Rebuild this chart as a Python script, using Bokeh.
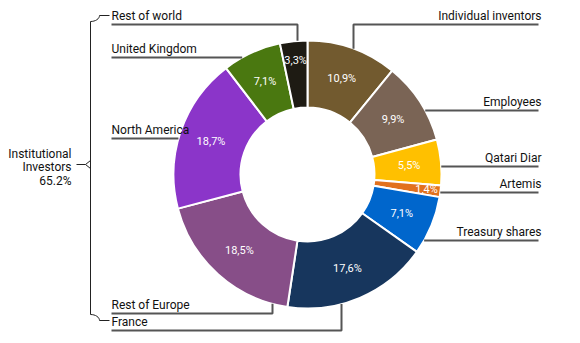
import math
from bokeh.plotting import figure
from bokeh.models import Range1d
from bokeh.core.properties import value
from bokeh.embed import file_html
from bokeh.resources import INLINE

# ---- data ----
categories = ["Individual inventors", "Employees", "Qatari Diar", "Artemis",
              "Treasury shares", "France", "Rest of Europe", "North America",
              "United Kingdom", "Rest of world"]
values = [10.9, 9.9, 5.5, 1.4, 7.1, 17.6, 18.5, 18.7, 7.1, 3.3]
value_labels = ["10,9%", "9,9%", "5,5%", "1,4%", "7,1%", "17,6%", "18,5%",
                "18,7%", "7,1%", "3,3%"]
colors = ["#725a2f", "#7a6455", "#ffc000", "#e2711d", "#0066cc", "#17365d",
          "#874e88", "#8b35c9", "#4a7810", "#1e1b13"]
group_label = ["Institutional", "Investors", "65.2%"]

# ---- layout (pixels, y measured from top) ----
W, H = 580, 343
CX, CY = 307, 174
R_OUT, R_IN = 134, 67
FONT = "Roboto"
LINE_COLOR = "#555555"

def Y(py):
    return H - py

# side, leader y, optional vertical drop x
leader = {
    "Individual inventors": ("right", 24, 353),
    "Employees": ("right", 110, None),
    "Qatari Diar": ("right", 166, None),
    "Artemis": ("right", 192, None),
    "Treasury shares": ("right", 240, None),
    "France": ("left", 330, 341),
    "Rest of Europe": ("left", 313, 272),
    "North America": ("left", 138, None),
    "United Kingdom": ("left", 57, None),
    "Rest of world": ("left", 24, 297),
}
label_radius = {"Artemis": 120, "Rest of world": 115}
RIGHT_END = 538
RIGHT_TEXT = 541
LEFT_START = 111

p = figure(width=W, height=H, x_range=Range1d(0, W), y_range=Range1d(0, H),
           output_backend="svg", toolbar_location=None, min_border=0)
p.axis.visible = False
p.grid.visible = False
p.outline_line_color = None
p.background_fill_color = "white"

total = sum(values)
starts, ends, mids = [], [], []
acc = 0.0
for v in values:
    a0 = acc / total
    acc += v
    a1 = acc / total
    starts.append(math.pi / 2 - 2 * math.pi * a0)
    ends.append(math.pi / 2 - 2 * math.pi * a1)
    mids.append(math.pi / 2 - 2 * math.pi * (a0 + a1) / 2)

p.annular_wedge(x=[CX] * len(values), y=[Y(CY)] * len(values),
                inner_radius=R_IN, outer_radius=R_OUT,
                start_angle=starts, end_angle=ends, direction="clock",
                fill_color=colors, line_color="white", line_width=2)

# value labels inside the ring
lx, ly = [], []
for cat, m in zip(categories, mids):
    r = label_radius.get(cat, 102)
    lx.append(CX + r * math.cos(m))
    ly.append(Y(CY) + r * math.sin(m))
p.text(x=lx, y=ly, text=value_labels, text_color="white",
       text_font=value(FONT), text_font_size="11px",
       text_align="center", text_baseline="middle")

# leader lines and category labels
for cat in categories:
    side, ly_pix, vx = leader[cat]
    if vx is not None:
        dx = vx - CX
        dy = math.sqrt(R_OUT ** 2 - dx ** 2)
        y_edge = CY - dy if ly_pix < CY else CY + dy
        if side == "right":
            xs = [RIGHT_END, vx, vx]
        else:
            xs = [LEFT_START, vx, vx]
        ys = [Y(ly_pix), Y(ly_pix), Y(y_edge)]
    else:
        dy = ly_pix - CY
        dx = math.sqrt(R_OUT ** 2 - dy ** 2)
        if side == "right":
            xs = [CX + dx, RIGHT_END]
        else:
            xs = [LEFT_START, CX - dx]
        ys = [Y(ly_pix), Y(ly_pix)]
    p.line(xs, ys, line_color=LINE_COLOR, line_width=2)
    if side == "right":
        p.text(x=[RIGHT_TEXT], y=[Y(ly_pix - 9)], text=[cat],
               text_font=value(FONT), text_font_size="12px",
               text_color="#111111", text_align="right",
               text_baseline="middle")
    else:
        p.text(x=[LEFT_START], y=[Y(ly_pix - 9)], text=[cat],
               text_font=value(FONT), text_font_size="12px",
               text_color="#111111", text_align="left",
               text_baseline="middle")

# bracket for institutional investors
BX = 90
top_y, bot_y, mid_y = 15, 320, 164
bx, by = [109, 99], [Y(top_y), Y(top_y)]
for i in range(1, 9):
    t = i / 8 * math.pi / 2
    bx.append(BX + 9 * math.cos(t))
    by.append(Y(top_y + 6 * math.sin(t)))
bx += [BX, BX]
by += [Y(top_y + 6), Y(bot_y - 6)]
for i in range(1, 9):
    t = i / 8 * math.pi / 2
    bx.append(BX + 9 * math.sin(t))
    by.append(Y(bot_y - 6 * math.cos(t)))
bx.append(109)
by.append(Y(bot_y))
p.line(bx, by, line_color="#222222", line_width=1)
p.line([BX, 85, BX], [Y(mid_y - 4), Y(mid_y), Y(mid_y + 4)],
       line_color="#222222", line_width=1)
p.line([76, 85], [Y(mid_y), Y(mid_y)], line_color="#222222", line_width=1)

p.text(x=[71, 71, 71], y=[Y(153), Y(166), Y(180)], text=group_label,
       text_font=value(FONT), text_font_size="12px", text_color="#111111",
       text_align="right", text_baseline="middle")

open("out.html", "w").write(file_html(p, INLINE))
